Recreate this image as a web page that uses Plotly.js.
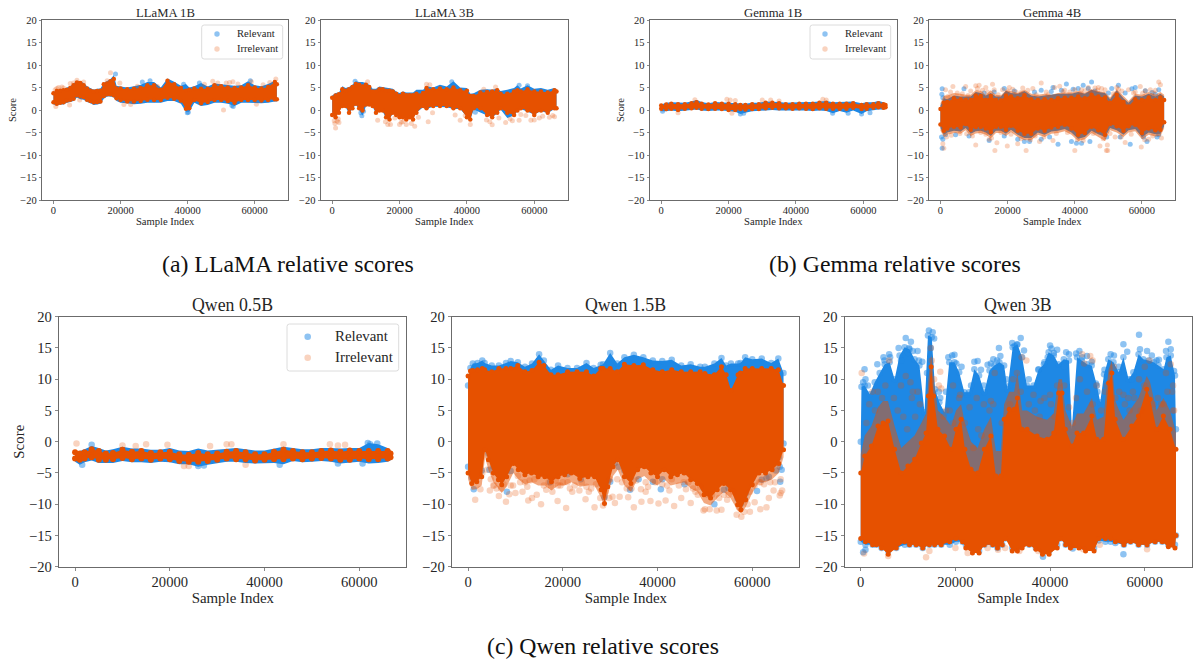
<!DOCTYPE html>
<html><head><meta charset="utf-8">
<script src="https://cdn.plot.ly/plotly-3.0.1.min.js"></script>
<style>html,body{margin:0;padding:0;background:#fff}#c{width:1193px;height:660px}</style>
</head><body><div id="c"></div>
<script>
const seriesNames = ['Relevant','Irrelevant'];
const tickY = [-20,-15,-10,-5,0,5,10,15,20];
const tickX = [0,20000,40000,60000];

// ---- LLaMA 1B
const l1X = [0,1000,2000,3000,4000,5000,6000,7000,8000,9000,10000,11000,12000,13000,14000,15000,16000,17000,18000,18800,20000,22000,24000,26000,28000,30000,32000,34000,36000,38000,39500,40500,42000,44000,46000,48000,50000,52000,54000,56000,58000,60000,62000,64000,66000,66600];
const l1RelHi = [4,4.3,4.4,4.6,5,5.3,5.9,6.4,6.4,6,5.3,4.8,4.5,4.7,4.8,6,6.4,6.9,7.7,5.4,5.2,5,5.3,5.6,6.2,6.2,5,7,6.3,5.4,5.8,5,5.3,6,5.2,5.9,5.7,5.5,5.4,5.5,6.4,5.5,5.3,5.8,6.5,6.2];
const l1RelLo = [1.2,1,1.2,1.2,1.6,1.8,2,2.8,2.4,2.3,1.8,1.5,1.1,1.2,1.4,2.5,3,3,2.8,2,1.6,1.5,1.3,1.4,1.6,1.6,1.6,2,2,1.4,-0.4,-0.4,1.6,0.9,1.1,1.6,1.6,1.4,0.9,1.6,1.6,1.6,1.5,1.6,1.9,1.9];
const l1IrrHi = [3.7,4.2,4.3,4.4,4.5,4.9,5.5,6.1,6,5.5,4.8,4.3,4.1,4.2,4.3,5.7,5.9,6.4,6.9,4.8,4.8,4.6,4.7,4.9,5.5,5.5,4.5,6.5,5.7,4.9,4.3,4.5,4.8,4.7,4.7,5.5,5.3,5,4.9,5,5.5,5,4.8,5.1,6.2,5.7];
const l1IrrLo = [1.7,1.4,1.6,1.7,2.1,2.3,2.5,3.3,3.1,2.9,2.3,2,1.7,1.8,1.9,3.1,3.5,3.5,3.3,2.6,2.2,1.9,1.9,2,2.3,2.2,2.2,2.7,2.5,2.1,0.3,0.4,2.2,1.5,1.8,2.2,2.2,2,1.6,2.2,2.2,2.2,2.1,2.2,2.4,2.4];
const l1RelOutX = [18500,39900,43500,53600,58700,28800,26500,40200,53200,38800];
const l1RelOutY = [8,-0.6,6,0.8,6.5,6.5,6.2,-0.5,1,5.7];
const l1IrrOutX = [17000,50700,500,1500,2500,5000,7000,19800,21000,23000,47500,49000,51500,52500,53500,59000,60500,66300,16000,700,4800,7800,25000,1000,3000,6000,9000,31000,45000,55000,62500,64500];
const l1IrrOutY = [8.3,0,4.5,5,5.1,5.9,6.6,6,1.2,1.2,6.4,6,6,6.1,6.3,6.3,1.3,6.9,6.5,0.8,1.1,2.2,5.3,4.8,4.9,6,6.2,5.2,5.7,5.8,5.6,6.1];

// ---- LLaMA 3B
const l3X = [0,1000,2000,3000,4000,5000,6000,7000,8000,9000,10000,11000,12000,13000,14000,15000,16000,17000,18000,19000,20000,21000,22000,23000,24000,25000,27000,28000,30000,32000,34000,36000,38000,40000,41000,42000,44000,46000,47500,49000,50000,52000,54000,55000,56000,58000,60000,62000,64000,66000,66600];
const l3RelHi = [3.2,3.8,3.9,5.3,4.9,5.1,5.6,6.4,6.2,6.2,6,5.6,4.7,4.7,5.2,5.1,4.9,4.9,4.7,4.1,3.8,4.1,3.9,3.9,3.9,4.5,4.5,5.3,5,5.6,5.2,6.4,5,4.9,3.6,3.7,4.5,4.6,4.5,4.8,4.2,4.5,4.9,5.5,4.8,5.5,4.7,4.9,4.5,4.9,4.6];
const l3RelLo = [-0.5,-1,-0.4,0.8,0.6,-0.8,0.2,1.2,0,-1.3,0.8,1,0.7,-0.8,-0.3,-0.4,-1.8,-2,-0.8,-1.2,-1.6,-1.6,-2,-1.6,-1.8,-0.6,0.6,0.2,0.7,0.6,0.6,0.2,0.2,-1.5,-2.2,0.1,-0.5,-1.2,-1.6,-0.8,0.1,-1.8,-1.2,-0.3,0.2,-0.4,-1,-0.2,-0.7,0.2,0.2];
const l3IrrHi = [2.7,3.2,3.5,4.6,4.3,4.6,5.1,5.8,5.6,5.2,5.6,5.1,4.1,4.1,4.6,4.6,4.3,4.3,4.1,3.6,3.1,3.6,3.3,3.3,3.3,3.6,3.8,4.9,4.6,4.8,4.6,5,4.4,4.3,3.1,3.1,3.9,4,4.1,4.4,3.6,3.6,4.1,4.4,4.1,4.6,4.1,4.1,3.9,4.4,4.1];
const l3IrrLo = [-1.1,-1.6,-0.6,0.9,0.9,-0.6,0.4,1.4,0.4,-0.1,1.2,1.2,0.9,-0.6,-0.1,-0.1,-1.6,-2.1,-0.6,-1.1,-1.6,-1.6,-2.1,-1.6,-2.1,-0.6,0.9,0.4,0.9,0.9,0.9,0.4,0.4,-1.6,-2.1,0.4,0.4,-1.1,-1.6,-0.6,0.4,-0.6,-1.1,-0.1,0.4,-0.1,-1.1,-0.1,-0.6,0.4,0.4];
const l3RelOutX = [8800,35500,55500,6800,42500,58000,8500,9300];
const l3RelOutY = [-1.3,6.3,5.5,6.4,-0.5,5.4,-0.6,-0.3];
const l3IrrOutX = [1000,2000,13500,16500,17300,20000,22000,24500,28500,38000,41000,47500,51500,55500,59000,61500,64500,28000,29000,10500,48500,45000,800,1500,20500,23500,60000,66000,600,1800,15800,18600,21000,25600,29800,36500,39500,45800,46800,49500,52800,53500,56000,57500,62500,65500];
const l3IrrOutY = [-4,-2.8,-2.3,-3.2,-3.2,-3.2,-3.2,-3.6,-2.6,-2.3,-3.2,-3.3,-2.8,-2.3,-2.3,-1.8,-1.6,5.7,5.6,6.3,5.1,4.6,-3,-2.5,-2.7,-3,-2.2,-1.5,-2.4,-2,-2.6,-1.8,-2.6,-1.6,-0.6,-1.1,-1.2,-2.2,-2.6,-1.8,-2,-2.4,-1,-1.2,-1.4,-1.2];

// ---- Gemma 1B
const g1X = [0,1500,3000,5000,7000,9000,10500,12000,14000,16000,18000,20000,22000,23500,25000,27000,29000,31000,33000,35000,37000,39000,41000,43000,45000,47000,49000,51000,53000,55000,57000,59500,61000,63000,64500,66000,66600];
const g1RelHi = [1.2,1.6,1.7,1.6,1.6,1.9,2.2,1.8,1.5,1.8,1.7,1.6,1.5,1.4,1.4,1.6,1.6,1.9,1.9,1.8,1.6,1.7,1.8,1.8,1.8,1.9,2,1.7,1.8,1.8,1.9,1.5,1.7,1.7,2,1.7,1.4];
const g1RelLo = [-0.3,-0.3,-0.1,-0.3,-0.1,0,0.1,-0.1,-0.2,-0.1,-0.1,-0.2,-0.4,-0.9,-0.6,-0.3,-0.3,-0.1,0,-0.1,-0.1,-0.2,-0.1,-0.1,-0.2,-0.1,-0.2,-0.7,-0.2,-0.6,-0.1,-0.9,-0.3,0,0.1,0.1,0.2];
const g1IrrHi = [1,1.2,1.4,1.3,1.3,1.5,1.7,1.4,1.2,1.5,1.4,1.4,1.3,1.1,1.1,1.3,1.3,1.6,1.6,1.5,1.3,1.3,1.4,1.4,1.4,1.6,1.6,1.4,1.4,1.4,1.5,1.1,1.3,1.3,1.5,1.3,1.1];
const g1IrrLo = [0.3,0.2,0.3,0,0.3,0.4,0.5,0.3,0.2,0.3,0.2,0,0,0.2,0.1,0.2,0.2,0.4,0.5,0.4,0.4,0.3,0.4,0.3,0.2,0.4,0.3,0.3,0.3,0.3,0.5,0.2,0.3,0.5,0.6,0.5,0.6];
const g1RelOutX = [23500,59500,50900,55500,24500,62000,400];
const g1RelOutY = [-0.9,-0.9,-0.7,-0.7,-0.7,-0.6,-0.3];
const g1IrrOutX = [19500,20500,22000,48000,30000,32500,35000,49000,10000,21000,5000];
const g1IrrOutY = [2.4,2.2,2.1,2.4,2.2,2.2,2,2.2,2.3,-0.7,-0.6];

// ---- Gemma 4B
const g4X = [0,1000,2000,4000,6000,7500,9000,10500,12000,13500,15000,16500,18000,19500,21000,23000,25000,27000,29000,31000,33000,35000,37000,39000,41000,43000,45000,47000,49000,50500,52500,54500,56000,58000,60000,62000,64000,65500,66600];
const g4RelHi = [1,2.6,2.4,3.2,3,3,3,4,3.8,3.2,3.8,3,3,4.3,3.8,3.6,4.2,3.2,3,3.2,3.4,3.6,3.6,3.6,4,3.6,4.5,4,3.8,2.4,4.4,2.6,1.6,3.2,3,3.6,3,3.6,3];
const g4RelLo = [-4,-5.5,-5,-4.6,-4.8,-4,-5.3,-4.7,-4.6,-5,-5.8,-4.6,-4.6,-5.3,-4.4,-5.5,-6.2,-6.2,-5,-5.5,-4.8,-4.6,-4.2,-5,-6.4,-6,-4.6,-5.4,-6,-4,-4.5,-5.5,-4.5,-4.2,-6,-5,-5.4,-5.3,-3.6];
const g4IrrHi = [0.2,1.6,1.8,2.6,2.4,2.2,2.2,3.2,3.1,2.2,3.1,2.2,2.1,3.2,3,2.6,3.3,2.4,2.2,2.4,2.2,2.6,2.7,2.7,3,2.6,3.4,3,2.8,1.6,3.4,1.8,0.8,2.4,2.2,2.8,2.2,2.8,2.2];
const g4IrrLo = [-3.2,-4.6,-4.1,-3.7,-3.9,-3.1,-4.4,-3.8,-3.7,-4.1,-4.9,-3.7,-3.7,-4.4,-3.5,-4.6,-5.3,-5.3,-4.1,-4.6,-3.9,-3.7,-3.3,-4.1,-5.5,-5.1,-3.7,-4.5,-5.5,-3.1,-3.6,-4.6,-3.6,-3.3,-5.1,-4.1,-4.5,-4.4,-2.7];
const g4FringeHi = [1.5,3.2,3.2,3.8,3.6,3.4,3.4,4.4,4.3,3.4,4.4,3.4,3.3,4.4,4.2,3.8,4.5,3.6,3.4,3.6,3.4,3.8,3.9,3.9,4.2,3.8,4.6,4.2,4,2.8,4.6,3,2,3.6,3.4,4,3.4,4,3.4];
const g4FringeLo = [-4.6,-6,-5.5,-5.1,-5.3,-4.5,-5.8,-5.2,-5.1,-5.5,-6.3,-5.1,-5.1,-5.8,-4.9,-6,-6.7,-6.7,-5.5,-6,-5.3,-5.1,-4.7,-5.5,-6.9,-6.5,-5.1,-5.9,-6.9,-4.5,-5,-6,-5,-4.7,-6.5,-5.5,-5.9,-5.8,-4.1];
const g4RelOutX = [500,400,700,7000,19000,30000,33500,37500,39500,41000,42500,45000,44000,53000,57000,58000,61000,64000,65000,51000,500,300,700,1500,4500,8500,14500,19000,23000,25000,26500,30000,32500,35000,39000,40500,42000,44500,49500,53500,56500,60500,61500,64500,65000,13000,16000,22000,28000,33000,36000,46000,50000,55000,63000];
const g4RelOutY = [4.7,3.5,2.7,4.7,4.8,4.4,5,5.8,4.6,4.8,5.5,6.2,4.8,5.5,4.7,5,4.3,3.5,4.5,4.8,-8.5,-6,-6.5,-5.5,-5.5,-5.8,-6.8,-5.8,-6.5,-7,-7,-6.5,-6,-7.6,-7,-7.4,-7.4,-7,-6,-6,-7.6,-6,-7,-6,-5.5,3.8,4,4.2,4,4.1,4.4,4.2,3.8,3.8,3.9];
const g4IrrOutX = [1500,3700,7500,10500,11500,13500,15500,16000,18500,20500,24500,27500,30000,34000,35500,38500,40000,42000,44000,47000,49000,52500,56000,59500,62500,65000,65500,1000,700,10500,14500,16200,16800,19900,23000,25500,29500,33500,40000,47500,49400,49800,49700,55000,59800,52000,62000,3000,5000,9000,12500,21500,26000,31500,37000,43000,46000,48000,54000,58000,61000,64000,2200,6500,8200,11000,14000,17200,20000,22500,24000,28500,32000,36500,41800,44500,46800,51500,53000,57500,60200,63500,1800,3200,5800,7800,9500,12000,13500,15200,18000,21000,24000,26800,28200,30800,34500,37800,40800,42500,45500,48500,50500,53800,56800,60800,63200,65800];
const g4IrrOutY = [4.5,5.2,5.2,5.4,5.5,5,5.7,4.5,4.5,5,4.9,4.8,6,5,5.3,4,4.5,4.5,5,5,4.5,5,4.5,5.2,4.5,6.2,5.6,-8.5,-7.5,-7.8,-6.5,-9,-7.3,-8,-7.5,-9,-7,-6.8,-9,-8,-9,-9,-7.8,-7.2,-8.2,-6,-6.5,4,3.8,4.2,4.4,4.6,4.4,4,4.4,4.3,4.9,4.8,4.2,4,4.3,4.4,3,3.6,3.2,4.8,4,3.4,4.2,4,3.9,3.4,3.4,4.1,3.8,4.1,4.4,3.6,4.6,3.8,3.7,3.8,-6,-5.6,-5.2,-5.3,-5.8,-5,-5.4,-6.2,-5,-5.4,-6.4,-6.6,-5.8,-6,-5.2,-5,-6.6,-6.8,-5.2,-6.4,-5.2,-6,-5.4,-6.6,-5.8,-6.2];

// ---- Qwen 0.5B
const q0X = [0,1000,2000,3500,5000,6500,8000,10000,12000,14000,16000,18000,20000,22000,24000,26000,28000,30000,32000,34000,36000,38000,40000,42000,44000,46000,48000,50000,52000,54000,56000,58000,60000,62000,64000,66000,66600];
const q0RelHi = [-1.5,-1.5,-1.2,-0.7,-1,-1.4,-1.2,-0.8,-1.1,-1.1,-1.3,-1.3,-1,-1.4,-1.5,-1.1,-1.4,-1.3,-1.1,-1,-1.2,-1.4,-1.4,-1.1,-0.8,-1,-1.2,-1.2,-1,-1,-1.1,-1,-1,-0.2,-0.4,-1,-1.4];
const q0RelLo = [-3.2,-3.7,-3.3,-3,-3.4,-3.4,-3.4,-3.1,-3.3,-3.3,-3.4,-3.2,-3.3,-3.6,-3.6,-4,-3.7,-3.4,-3.2,-3.2,-3.4,-3.5,-3.5,-3.4,-3.6,-3.1,-3.3,-3.2,-3.1,-3.2,-3.5,-3.4,-3.2,-3.5,-3.4,-3.2,-3];
const q0IrrHi = [-1.7,-1.9,-1.7,-1.2,-1.5,-1.9,-1.8,-1.3,-1.6,-1.5,-1.8,-1.7,-1.6,-2,-2.1,-1.8,-2,-1.9,-1.6,-1.5,-1.7,-2,-2,-1.6,-1.3,-1.5,-1.7,-1.7,-1.5,-1.4,-1.6,-1.4,-1.5,-1.5,-1.5,-1.5,-1.9];
const q0IrrLo = [-2.7,-2.9,-2.7,-2.5,-2.9,-2.9,-2.8,-2.6,-2.8,-2.7,-2.9,-2.7,-2.8,-3.1,-3.2,-3.2,-3.1,-2.9,-2.7,-2.8,-2.8,-3,-2.9,-2.8,-2.8,-2.7,-2.8,-2.7,-2.6,-2.7,-2.9,-2.9,-2.7,-2.8,-2.8,-2.7,-2.5];
const q0RelOutX = [1500,61800,63800,62300,26000,43200,55500,60700,27200,3500];
const q0RelOutY = [-3.7,-0.2,-0.3,-0.4,-3.9,-3.7,-3.5,-3.5,-3.8,-0.5];
const q0IrrOutX = [300,15000,19500,32000,33000,44000,53800,55500,57000,23000,24000,36000,10000,12800,28500];
const q0IrrOutY = [-0.3,-0.4,-0.5,-0.4,-0.4,-0.4,-0.4,-0.6,-0.5,-3.9,-3.9,-3.7,-0.6,-0.7,-0.7];

// ---- Qwen 1.5B
const q1X = [0,500,1000,2000,3000,3500,5000,6500,8000,9000,10500,12000,13500,15000,16000,17500,19000,21000,23000,25000,26500,28000,28500,30000,31500,33000,35000,37000,39000,41000,43000,45000,47000,49000,50000,52000,53500,54500,55500,57000,57500,58500,60000,62000,64000,65500,66600];
const q1RelHi = [9,11.8,12.5,12.6,13,12.6,12.2,12.2,12.6,12.9,12.7,12,12.5,14,13,11.5,12.2,11.8,11.8,12.6,11.8,12.3,12.4,14.2,12.5,13.5,13.9,13.5,13,12.9,13.1,12.2,12.4,12,12,12.5,13.4,12.2,12.5,12.5,12.6,13.5,13.2,13.3,12.6,13.3,11];
const q1IrrHi = [10.5,11.3,11.4,11.5,11.7,11.5,11.2,11.7,11.7,11.7,12.2,11.2,11.4,12.7,12.2,10.7,10.7,11.2,11.2,11.2,10.5,11.7,11.7,11.7,11.2,12.4,12.2,12.3,11.5,11.2,11.5,11.2,11.2,11.2,10.9,10.7,12,10.7,8.2,10.7,11,11.7,11.7,11.7,11.7,11.5,9];
const q1LoX = [0,780,1830,2880,3590,4290,5340,6400,7100,8150,9550,10600,12000,13400,14800,16200,17600,19000,20400,21800,23600,25300,26700,28100,28800,29500,30600,31600,33000,34400,35800,37200,38600,40000,41400,42800,44200,45600,47000,48400,49800,51200,52600,54000,55400,56900,57600,58600,60000,61400,62800,64200,65600,66600];
const q1RelLo = [-4,-5.7,-5.4,-4.6,-0.3,-1.9,-4,-5.1,-5.9,-4.6,-2.5,-3.5,-4.3,-4,-4.6,-4.6,-5.4,-4.6,-4.3,-4,-4.9,-4.6,-4.6,-6.7,-8.9,-6.2,-3,-1.9,-4.6,-5.7,-3.5,-3,-4,-4.6,-3.5,-4.6,-4.3,-4,-5.1,-5.7,-7.5,-8,-6.7,-5.7,-6.7,-9.1,-9.9,-8.3,-5.9,-4,-4,-3.5,-2.5,-0.3];
const q1IrrLo = [-5,-6.7,-6.4,-5.6,-1.3,-2.9,-5,-6.1,-6.9,-5.6,-3.5,-4.5,-5.3,-5,-5.6,-5.6,-6.4,-5.6,-5.3,-5,-5.9,-5.6,-5.6,-7.7,-9.9,-7.2,-4,-2.9,-5.6,-6.7,-4.5,-4,-5,-5.6,-4.5,-5.6,-5.3,-5,-6.1,-6.7,-8.5,-9,-7.7,-6.7,-7.7,-10.1,-10.9,-9.3,-6.9,-5,-5,-4.5,-3.5,-1.3];
const q1FringeLo = [-6,-7.7,-7.6,-7,-2.5,-4.5,-6.5,-7.5,-8.2,-7.2,-5,-6,-6.8,-6.5,-7,-7,-7.8,-7,-7,-6.5,-7.2,-7,-7,-9,-10.5,-8.5,-5.5,-4.5,-7,-8,-6,-5.5,-6.5,-7,-6,-7,-6.8,-6.5,-7.5,-8,-9.8,-10.2,-9,-8,-9,-11,-11.5,-10.5,-8.2,-6.5,-6.5,-6,-5,-2.5];
const q1RelOutX = [1200,8200,30000,31000,31800,34200,39000,40700,36000,45700,54000,55000,58400,61000,62000,63500,65900,52000,65000,4500,9000,17300,21000,23800,41000,55500,56000,63000,65800,66200];
const q1RelOutY = [-7.6,-8,-6.4,-3.4,-4,-7.7,-6.4,-7.6,-6,-6.8,-7.7,-7.4,-9.2,-7.9,-6.1,-5.6,-6.4,-10,-4.6,-4.5,-4.7,-6.5,-5.2,-6,-6,-7,-7.3,-5.8,-4,-4.5];
const q1IrrOutX = [1500,2600,4600,5300,6500,7000,8000,8700,10000,11500,12700,13500,15400,16500,17800,18900,20700,22000,23500,24800,26700,27900,28500,29800,31000,32000,33800,35000,36600,38500,40200,41700,43500,45000,47000,48500,49700,51000,52500,53500,54700,56700,57700,59000,60500,61700,63000,64500,65800,66300,3000,5500,9500,12000,14500,17000,19500,21500,25500,30500,34500,37500,42500,46000,50000,57200,58300,59500,61500,63500,66000,4000,4800,6000,7500,9000,10500,11000,12500,13000,14000,16000,17500,18500,19000,20000,21000,22500,24000,25000,26000,27000,29000,30000,31500,32500,33500,35500,36500,37500,38000,39500,41000,42000,43000,44500,45500,46500,47500,48000,49000,50500,51500,53000,54000,55000,56000,59500,60500,61800,62500,63800,64800,66000];
const q1IrrOutY = [-9.3,-7.6,-7.8,-7,-8.7,-7.5,-9.6,-8.4,-8.2,-8,-9.4,-9,-10,-7.7,-8,-9.5,-10.6,-8,-7.8,-9.2,-10.5,-9,-10.2,-9,-9.8,-8.8,-8.9,-10.5,-9.6,-9.5,-9.9,-9.4,-10.3,-9,-9.8,-8.5,-11,-10.8,-11,-10.9,-9.3,-11.7,-12,-10,-9.7,-10.8,-10.5,-7.8,-8.6,-7.8,-5,-7,-7,-6.5,-8.5,-6.5,-7,-7.5,-8,-8.8,-7.5,-8,-7.8,-7.6,-10.8,-10.5,-11.2,-11.2,-6.5,-9,-8.2,-4.5,-6,-7.5,-6.8,-7,-5.5,-6.5,-7.2,-6.2,-6,-7,-7,-6.2,-7,-6.5,-6.5,-7,-6.5,-7.2,-7.5,-6.8,-8,-6,-6,-6.5,-7.5,-6.2,-7.6,-6.5,-7.2,-6.5,-6.8,-7,-6,-7,-6.5,-6.5,-7.5,-8,-7.2,-8.5,-8.5,-9,-8.5,-8.5,-8,-8,-7,-6.5,-6.8,-6.5,-6.5,-6];

// ---- Qwen 3B
const q3RelX = [0,150,840,1900,2950,4000,5050,6100,7150,8200,9260,10300,11370,12400,13470,14200,15000,15700,16600,17700,18700,19800,20800,21900,22900,24000,25000,26100,27200,28200,29300,30300,31000,32100,33100,34100,35100,36500,37600,38700,39700,40800,41800,42900,44000,44600,45700,46700,47800,48800,49900,50600,51400,52300,53400,54500,55500,56600,57600,58700,59700,60800,61900,62900,64000,64600,65500,66400,66600];
const q3RelHi = [0,8.8,9,7.6,9.5,11,12.4,12.7,10,13.8,15.1,14.8,13.2,12.2,4.7,17,16.7,8.4,6.3,4.7,12.7,12.7,11.1,7.9,7.9,11.6,10.6,7.9,11.4,12.2,12.7,12.2,8.4,15.1,15.6,13.5,9,9,11.6,12.4,14.3,13.8,12.4,13.2,13,2,13.5,13,12.4,12.2,9,6.3,10.8,13.2,12.7,11.1,13.5,10,11.1,14,13.2,13,12.7,12.2,11.6,13.5,13.8,10.6,2];
const q3IrrX = [0,840,2250,3650,4700,5750,7150,8560,9960,11370,12800,13800,14300,14870,15400,16300,17700,19100,20130,21190,22000,23300,24700,26100,27500,28550,29600,30300,31360,32400,33100,34100,35150,37260,39370,40770,41820,42530,43230,44630,45690,47090,48850,49900,51300,52360,53060,53760,55500,57270,58670,60430,61130,62500,63940,65340,66600];
const q3IrrHi = [-5,-2.3,-0.7,2.5,3,3.3,-1.2,-5,-3.9,-2.8,-0.2,1.4,7.3,12,7.3,2,0.9,-1.2,2,3.6,-1.2,-4.4,-5,-1.2,0.9,-5.5,-5.5,3.6,5.2,5.2,7,2,2,0.9,0.4,1.4,7.8,7.8,2,-0.7,1.4,1.4,4.1,0.4,0.4,9.4,11,3.6,0.4,2.5,4.1,8.4,6.8,2,4.1,2,-1.2];
const q3FringeHi = [-2,1,2.5,5.5,6.5,6.5,2.5,-1,0,1,3,4.5,10,14,10,5,4,2.5,5,6,3,0,-1,2,4,-1.5,-1.5,6,8,8,11,5,5,4,3.5,4.5,10,10,5,2.5,4.5,4.5,7,3.5,4,11.5,13,6.5,3.5,5.5,7,10.5,9.5,5,7,5,1.5];
const q3LoX = [0,1000,2500,3300,4400,5800,7500,9300,10300,11700,13100,14500,15600,17000,18800,20100,21500,22200,23600,25000,26100,27900,28900,29900,30600,32000,33100,34100,35600,37000,38400,39800,41500,42200,43300,44300,46100,47500,49300,50300,51700,52800,53800,55600,57000,58700,60500,62200,63700,65000,66400,66600];
const q3RelLo = [-16,-16.5,-16.5,-16.5,-17,-17.5,-17,-16.5,-16.5,-16.5,-17,-16.5,-16.5,-16.5,-16.5,-16,-16,-16.5,-17,-17.5,-16.5,-16.5,-17,-16.5,-15.5,-17,-17,-16.5,-16.5,-17,-17.5,-17.5,-16.5,-15.5,-16.5,-16.5,-16.5,-17,-17,-15.8,-16,-16,-16.2,-16.5,-16,-16.5,-16.5,-16,-16,-16.5,-16.5,-15];
const q3IrrLo = [-15.5,-16,-16.5,-16.5,-17,-18,-17,-16,-16.5,-16.5,-17,-16.5,-16.5,-16.5,-16,-15.5,-16,-17,-17.8,-17.8,-16.5,-16.5,-17,-16.5,-15.5,-17.5,-17.5,-17,-16.5,-17.2,-18,-18,-17,-15.5,-16.5,-17,-17,-17.5,-17.5,-15.5,-15.5,-15.5,-16,-16.5,-16,-16.5,-16.5,-16,-16,-16.8,-17,-15];
const q3RelOutX = [500,800,1000,1500,3500,4800,5000,6000,6200,8000,8500,9500,10200,10600,12000,12300,14400,14800,15200,15500,16800,18500,19300,19800,20200,21300,23300,24000,24700,25400,26800,27500,28000,28800,29200,29500,30800,32000,32500,33000,33800,34500,37500,38800,39500,40000,40300,40800,41500,43400,44000,45500,46200,46800,47800,48800,49700,51500,52800,53500,55500,56300,58800,59000,60500,61500,63000,64500,65000,65500,66200,10000,11000,13000,14000,16500,18000,22500,26000,31500,35500,43000,50000,54500,57200,62500,500,1000,44800,55500,38500];
const q3RelOutY = [9.5,11.6,10,9,12.4,13.5,13,14,13.5,15,13,16.6,15,16,14.5,13,17.8,15,17.5,16.5,7,13.5,13.8,13.9,12.5,12,9,12.8,12.9,11.5,12.3,12.5,13.2,13,15,13.7,10,15.8,15.3,15.5,16.6,14.6,11.5,12.7,13.5,15.4,14.9,14.2,14.7,14.3,14,14.1,14.5,13.5,13.7,12.8,9.3,11.5,14,13.8,15.6,14.4,17.1,14.8,14.5,13.8,13.1,14.5,16,14.8,11.3,14.2,14.5,12.8,11,8,8,7.5,9,9,10,12,8,12,10,13,-17.7,-17.3,-17.1,-18,-18.4];
const q3IrrOutX = [200,6000,9500,10500,12000,14800,16800,17000,16500,19500,21000,24500,27500,28300,31500,33000,34000,35000,36500,38000,41500,46800,47200,48500,49000,49800,52000,53500,55500,57500,60000,61000,64500,65500,65800,66000,13800,700,5800,14500,20000,22600,26800,29000,30500,33500,37500,44500,47000,50500,60500,2500,8500,11000,18000,23000,26000,40000,44000,56500,58800,64000,66000,1200,1800,3000,3600,4500,5200,7000,7800,9000,9800,10800,11500,12500,15000,15500,17500,18800,19500,20800,22000,23800,24800,25500,27200,28000,29800,32200,33800,35500,36800,37800,38800,40200,41000,43000,44800,45500,46300,47800,49000,50800,51600,53800,54600,55800,56800,57800,59200,59900,61800,62800,63500,64800,66200];
const q3IrrOutY = [11,13,10.5,9.5,8,15,11.2,8.5,9,9,7.5,7,6.5,11,6,11,13.5,13,7.5,6.5,9,14,12.5,13.7,13,9,9,12,7.5,8,12,13,11,12.4,8,9,-18.5,-17.9,-18.3,-17.5,-17,-17.8,-17,-17.3,-17,-17.5,-17.5,-16.8,-17.2,-16.5,-17.2,8,9,8,5,5.5,6,7.5,5.5,7,10,6,5,3,6,5,8,7,9,7,5,4,2,7,4,6,13,10,4,5,3,7,3,-1,2,1,5,6,3,10,8,6,5,4,7,6,4,9,3,7,10,8,6,5,8,7,8,6,5,7,5,9,6,7,6,8,5];

const panels = [
 {name:'LLaMA 1B',  px:[42.3,288],   py:[20,200],     size:5,   rim:4.5, relRim:false, x:l1X,relHi:l1RelHi,relLo:l1RelLo,irrHi:l1IrrHi,irrLo:l1IrrLo,relOX:l1RelOutX,relOY:l1RelOutY,irrOX:l1IrrOutX,irrOY:l1IrrOutY, legend:{box:[201.7,25,282.7,59],dot:217,text:237,rows:[34,49]}, score:true},
 {name:'LLaMA 3B',  px:[321,567.7],  py:[20,200],     size:5,   rim:4.5, relRim:false, x:l3X,relHi:l3RelHi,relLo:l3RelLo,irrHi:l3IrrHi,irrLo:l3IrrLo,relOX:l3RelOutX,relOY:l3RelOutY,irrOX:l3IrrOutX,irrOY:l3IrrOutY},
 {name:'Gemma 1B',  px:[650,896.7],  py:[20,200],     size:5,   rim:4.5, relRim:false, x:g1X,relHi:g1RelHi,relLo:g1RelLo,irrHi:g1IrrHi,irrLo:g1IrrLo,relOX:g1RelOutX,relOY:g1RelOutY,irrOX:g1IrrOutX,irrOY:g1IrrOutY, legend:{box:[810,25,890.7,59],dot:825,text:845,rows:[34,49]}, score:true},
 {name:'Gemma 4B',  px:[929.3,1175.3],py:[20,200],    size:5,   rim:4.5, relRim:false, x:g4X,relHi:g4RelHi,relLo:g4RelLo,irrHi:g4IrrHi,irrLo:g4IrrLo,fringeHi:g4FringeHi,fringeLo:g4FringeLo,relOX:g4RelOutX,relOY:g4RelOutY,irrOX:g4IrrOutX,irrOY:g4IrrOutY},
 {name:'Qwen 0.5B', px:[59.3,406.3], py:[316.7,566.7],size:6.5, rim:6, relRim:false, x:q0X,relHi:q0RelHi,relLo:q0RelLo,irrHi:q0IrrHi,irrLo:q0IrrLo,relOX:q0RelOutX,relOY:q0RelOutY,irrOX:q0IrrOutX,irrOY:q0IrrOutY, legend:{box:[287,324,398.7,371],dot:307.7,text:335,rows:[336.7,357.7]}, score:true, big:true},
 {name:'Qwen 1.5B', px:[452.3,799.3],py:[316.7,566.7],size:6.5, rim:5, relRim:true, x:q1X,loX:q1LoX,relHi:q1RelHi,relLo:q1RelLo,irrHi:q1IrrHi,irrLo:q1IrrLo,fringeLo:q1FringeLo,relOX:q1RelOutX,relOY:q1RelOutY,irrOX:q1IrrOutX,irrOY:q1IrrOutY, big:true},
 {name:'Qwen 3B',   px:[845,1191.7], py:[316.7,566.7],size:6.5, rim:5, relRim:true, x:q3RelX,irrX:q3IrrX,loX:q3LoX,relHi:q3RelHi,relLo:q3RelLo,irrHi:q3IrrHi,irrLo:q3IrrLo,fringeHi:q3FringeHi,relOX:q3RelOutX,relOY:q3RelOutY,irrOX:q3IrrOutX,irrOY:q3IrrOutY, big:true}
];
const captions = [
 {t:'(a) LLaMA relative scores', x:287.5, y:264},
 {t:'(b) Gemma relative scores', x:895, y:264},
 {t:'(c) Qwen relative scores', x:602.5, y:646}
];

const W=1193,H=660, BLUE='#1E88E5', ORANGE='#E65100', FONT='"Liberation Serif","Times New Roman",serif', INK='#262626', SPINE='#6b6b6b';
const traces=[], annotations=[], shapes=[];
const layout={width:W,height:H,margin:{l:0,r:0,t:0,b:0,pad:0},paper_bgcolor:'#fff',plot_bgcolor:'#fff',font:{family:FONT,color:INK},hovermode:false,showlegend:false,annotations,shapes};
const PX=v=>v/W, PY=v=>1-v/H;

function band(xh,hi,xl,lo,color,ax,ay){
  traces.push({type:'scatter',mode:'lines',x:xh.concat(xl.slice().reverse()),y:hi.concat(lo.slice().reverse()),
    fill:'toself',fillcolor:color,line:{width:0,color:color},xaxis:ax,yaxis:ay,showlegend:false,hoverinfo:'skip'});
}
function marks(name,xs,ys,size,color,op,ax,ay){
  traces.push({type:'scatter',mode:'markers',name,x:xs,y:ys,marker:{size,color,opacity:op,line:{width:0}},xaxis:ax,yaxis:ay,showlegend:false});
}
function legendBox(L,big){
  const [x0,y0,x1,y1]=L.box, r=2.5, fs=big?14.9:10.6, d=big?3.3:2.7;
  shapes.push({type:'path',xref:'paper',yref:'paper',layer:'above',fillcolor:'rgba(255,255,255,0.8)',line:{color:'#dcdcdc',width:1},
    path:`M ${PX(x0+r)} ${PY(y0)} L ${PX(x1-r)} ${PY(y0)} Q ${PX(x1)} ${PY(y0)} ${PX(x1)} ${PY(y0+r)} L ${PX(x1)} ${PY(y1-r)} Q ${PX(x1)} ${PY(y1)} ${PX(x1-r)} ${PY(y1)} L ${PX(x0+r)} ${PY(y1)} Q ${PX(x0)} ${PY(y1)} ${PX(x0)} ${PY(y1-r)} L ${PX(x0)} ${PY(y0+r)} Q ${PX(x0)} ${PY(y0)} ${PX(x0+r)} ${PY(y0)} Z`});
  [[BLUE,0.5],[ORANGE,0.25]].forEach(([c,o],k)=>{
    const yc=L.rows[k];
    shapes.push({type:'circle',xref:'paper',yref:'paper',layer:'above',fillcolor:c,opacity:o,line:{width:0},x0:PX(L.dot-d),x1:PX(L.dot+d),y0:PY(yc+d),y1:PY(yc-d)});
    annotations.push({xref:'paper',yref:'paper',x:PX(L.text),y:PY(yc-0.7),xanchor:'left',yanchor:'middle',showarrow:false,text:seriesNames[k],xshift:-2,font:{size:fs,family:FONT,color:INK}});
  });
}
panels.forEach((p,i)=>{
  const n=i+1, ax='x'+(n===1?'':n), ay='y'+(n===1?'':n);
  const tf=p.big?14.6:10.5, lf=p.big?14.9:10.6, tlen=p.big?3.5:2.5;
  const axis={ticks:'outside',ticklen:tlen,tickwidth:0.8,tickcolor:SPINE,showgrid:false,zeroline:false,showline:true,mirror:true,linecolor:SPINE,linewidth:1,tickfont:{size:tf,family:FONT,color:INK}};
  layout['xaxis'+(n===1?'':n)]=Object.assign({domain:[p.px[0]/W,p.px[1]/W],range:[-3330,69930],anchor:ay,tickmode:'array',tickvals:tickX,ticktext:tickX.map(String),ticklabelstandoff:-2,
    title:{text:'Sample Index',font:{size:lf,family:FONT,color:INK},standoff:0}},axis);
  layout['yaxis'+(n===1?'':n)]=Object.assign({domain:[1-p.py[1]/H,1-p.py[0]/H],range:[-20,20],anchor:ax,tickmode:'array',tickvals:tickY,
    title:p.score?{text:'Score',font:{size:lf,family:FONT,color:INK},standoff:p.big?0:1}:{text:''}},axis);
  const xIrr=p.irrX||p.x, xLo=p.loX||p.x;
  band(p.x,p.relHi,xLo,p.relLo,BLUE,ax,ay);
  if(p.relRim) marks(seriesNames[0]+' edge',p.x.concat(xLo),p.relHi.concat(p.relLo),p.size,BLUE,0.5,ax,ay);
  marks(seriesNames[0],p.relOX,p.relOY,p.size,BLUE,0.5,ax,ay);
  if(p.fringeHi||p.fringeLo) band(xIrr,p.fringeHi||p.irrHi,xLo,p.fringeLo||p.irrLo,'rgba(230,81,0,0.5)',ax,ay);
  band(xIrr,p.irrHi,xLo,p.irrLo,ORANGE,ax,ay);
  marks(seriesNames[1]+' core',xIrr.concat(xLo),p.irrHi.concat(p.irrLo),p.rim,ORANGE,1,ax,ay);
  marks(seriesNames[1],p.irrOX,p.irrOY,p.size,ORANGE,0.25,ax,ay);
  if(p.legend) legendBox(p.legend,p.big);
  annotations.push({xref:'paper',yref:'paper',x:(p.px[0]+p.px[1])/2/W,y:1-(p.py[0]+(p.big?0:2.5))/H,xanchor:'center',yanchor:'bottom',showarrow:false,
    text:p.name,font:{size:p.big?17.8:12.7,family:FONT,color:INK}});
});
captions.forEach(c=>annotations.push({xref:'paper',yref:'paper',x:c.x/W,y:1-c.y/H,xanchor:'center',yanchor:'middle',showarrow:false,text:c.t,font:{size:23.8,family:FONT,color:'#111'}}));
Plotly.newPlot('c',traces,layout,{displayModeBar:false,staticPlot:true});
</script></body></html>
